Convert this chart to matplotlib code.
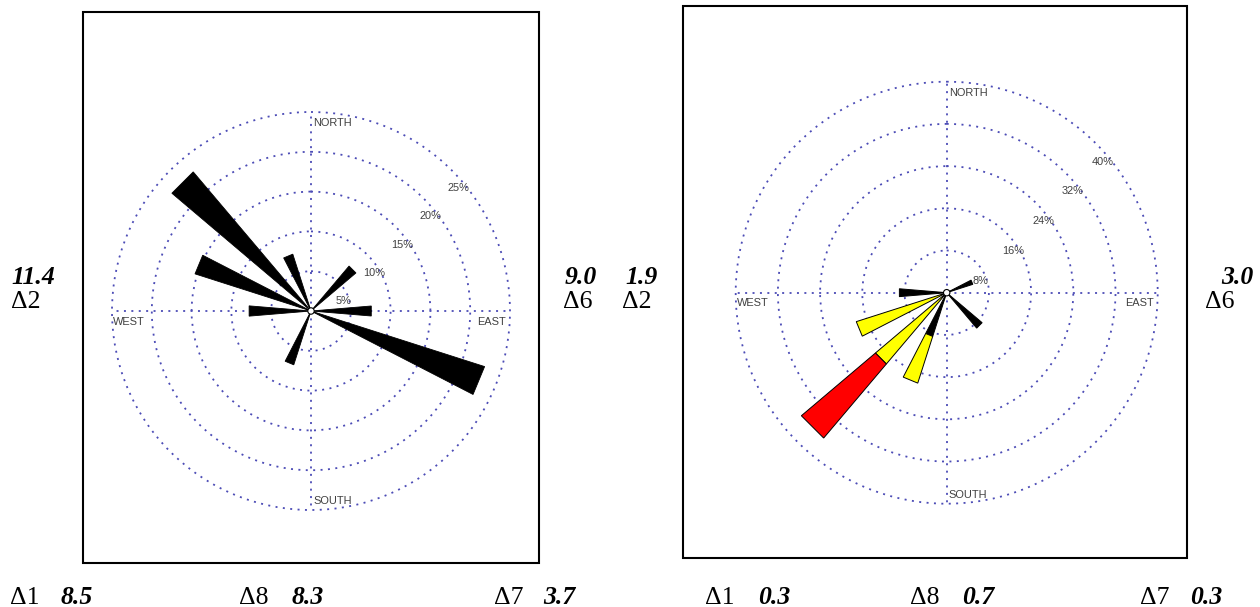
import numpy as np
import matplotlib
matplotlib.use("Agg")
import matplotlib.pyplot as plt
from matplotlib.patches import Rectangle, Circle

W, H, DPI = 1260, 607, 100

# 16-point compass sectors, clockwise from north
directions = ["N", "NNE", "NE", "ENE", "E", "ESE", "SE", "SSE",
              "S", "SSW", "SW", "WSW", "W", "WNW", "NW", "NNW"]

# Left rose: frequency of each sector (%)
left_freq = [0.0, 0.0, 7.4, 0.0, 7.6, 22.9, 0.0, 0.0,
             0.0, 7.1, 0.0, 0.0, 7.8, 15.3, 22.9, 7.5]
left_rings = [5, 10, 15, 20, 25]

# Right rose: stacked classes per sector (%)
right_low = [0.0, 0.0, 0.0, 5.2, 0.0, 0.0, 8.8, 0.0,
             0.0, 8.7, 0.0, 0.0, 9.0, 0.0, 0.0, 0.0]
right_mid = [0.0, 0.0, 0.0, 0.0, 0.0, 0.0, 0.0, 0.0,
             0.0, 9.3, 17.7, 18.0, 0.0, 0.0, 0.0, 0.0]
right_high = [0.0, 0.0, 0.0, 0.0, 0.0, 0.0, 0.0, 0.0,
              0.0, 0.0, 18.4, 0.0, 0.0, 0.0, 0.0, 0.0]
right_rings = [8, 16, 24, 32, 40]
class_colors = ["black", "#ffff00", "#ff0000"]

# Station annotations around the two panels
left_side_vals = ["11.4", "9.0"]
left_side_ids = ["Δ2", "Δ6"]
left_bottom_ids = ["Δ1", "Δ8", "Δ7"]
left_bottom_vals = ["8.5", "8.3", "3.7"]
right_side_vals = ["1.9", "3.0"]
right_side_ids = ["Δ2", "Δ6"]
right_bottom_ids = ["Δ1", "Δ8", "Δ7"]
right_bottom_vals = ["0.3", "0.7", "0.3"]

GRID_COLOR = "#4c4cb6"
LABEL_COLOR = "#404040"
SMALL_FONT = "Liberation Sans"
SERIF = "Liberation Serif"
PETAL_WIDTH = np.deg2rad(9.5)
PAD = 1.02  # headroom so the outermost ring is not clipped
GRID_STYLE = dict(color=GRID_COLOR, linestyle=(0, (1.1, 3.0)), linewidth=1.3)

fig = plt.figure(figsize=(W / DPI, H / DPI), dpi=DPI)
fig.patch.set_facecolor("white")


def px_rect(x0, y0, x1, y1):
    return [x0 / W, 1 - y1 / H, (x1 - x0) / W, (y1 - y0) / H]


# panel frames
for (x0, y0, x1, y1) in [(83, 11.7, 539, 563.3), (683, 5.7, 1187, 557.7)]:
    fig.add_artist(Rectangle((x0 / W, 1 - y1 / H), (x1 - x0) / W, (y1 - y0) / H,
                             transform=fig.transFigure, fill=False,
                             edgecolor="black", linewidth=1.5))


def make_rose(cx, cy, radius, rings):
    rad = radius * PAD
    ax = fig.add_axes(px_rect(cx - rad, cy - rad, cx + rad, cy + rad),
                      projection="polar")
    ax.set_theta_zero_location("N")
    ax.set_theta_direction(-1)
    rmax = rings[-1]
    ax.set_ylim(0, rmax * PAD)
    ax.set_facecolor("none")
    ax.spines["polar"].set_visible(False)
    ax.set_thetagrids([0, 90, 180, 270], labels=[""] * 4)
    ax.set_rgrids(rings, labels=[""] * len(rings))
    ax.tick_params(length=0, pad=0)
    ax.yaxis.grid(True, **GRID_STYLE)
    ax.xaxis.grid(False)
    # cross-hair spokes from the centre out to the outer ring
    for t in np.deg2rad([0, 90, 180, 270]):
        ax.plot([t, t], [0, rmax], zorder=1, **GRID_STYLE)
    kw = dict(textcoords="offset pixels", fontsize=7.9, color=LABEL_COLOR,
              family=SMALL_FONT, va="center", annotation_clip=False)
    ax.annotate("NORTH", xy=(0, rmax), xytext=(2.0, -10.8), ha="left", **kw)
    ax.annotate("SOUTH", xy=(np.pi, rmax), xytext=(2.0, 8.8), ha="left", **kw)
    ax.annotate("WEST", xy=(1.5 * np.pi, rmax), xytext=(1.0, -10.6), ha="left", **kw)
    ax.annotate("EAST", xy=(0.5 * np.pi, rmax), xytext=(-4.0, -10.6), ha="right", **kw)
    for r in rings:
        ax.annotate(f"{r}%", xy=(np.pi / 4, r), xytext=(-4, -18), ha="left", **kw)
    return ax


def draw_stack(ax, layers, colors, edge_lw):
    theta = np.deg2rad(np.arange(len(directions)) * 22.5)
    base = np.zeros(len(directions))
    for vals, col in zip(layers, colors):
        vals = np.asarray(vals, dtype=float)
        for t, r0, v in zip(theta, base, vals):
            if v <= 0:
                continue
            r1 = r0 + v
            ts = [t - PETAL_WIDTH / 2, t + PETAL_WIDTH / 2,
                  t + PETAL_WIDTH / 2, t - PETAL_WIDTH / 2]
            rs = [r0, r0, r1, r1]
            ax.fill(ts, rs, facecolor=col, edgecolor="black",
                    linewidth=edge_lw, zorder=3, joinstyle="miter")
        base = base + vals


def center_dot(ax):
    frac = 3.2 / ax.bbox.width
    ax.add_artist(Circle((0.5, 0.5), frac, transform=ax.transAxes,
                         facecolor="white", edgecolor="black",
                         linewidth=0.8, zorder=5))


ax_l = make_rose(311, 311, 199, left_rings)
draw_stack(ax_l, [left_freq], ["black"], 0.6)
center_dot(ax_l)

ax_r = make_rose(946.7, 292.7, 211, right_rings)
draw_stack(ax_r, [right_low, right_mid, right_high], class_colors, 0.7)
center_dot(ax_r)


def serif_text(x, y, s, bold_italic):
    fig.text(x / W, 1 - y / H, s, ha="left", va="baseline", fontsize=18.5,
             family=SERIF,
             fontweight="bold" if bold_italic else "normal",
             fontstyle="italic" if bold_italic else "normal")


# side annotations (value above, station id below)
side_pos = [(11, 11), (565, 563), (625, 622), (1221, 1205)]
side_vals = left_side_vals + right_side_vals
side_ids = left_side_ids + right_side_ids
for (xv, xi), v, s in zip(side_pos, side_vals, side_ids):
    serif_text(xv, 283.5, v, True)
    serif_text(xi, 308.5, s, False)

# bottom annotations (station id followed by value)
bottom_pos = [(10, 61), (239, 292), (494, 543),
              (705, 758), (910, 962), (1140, 1190)]
bottom_ids = left_bottom_ids + right_bottom_ids
bottom_vals = left_bottom_vals + right_bottom_vals
for (xi, xv), s, v in zip(bottom_pos, bottom_ids, bottom_vals):
    serif_text(xi, 603.5, s, False)
    serif_text(xv, 603.5, v, True)

fig.savefig("out.png", dpi=DPI, facecolor="white")
